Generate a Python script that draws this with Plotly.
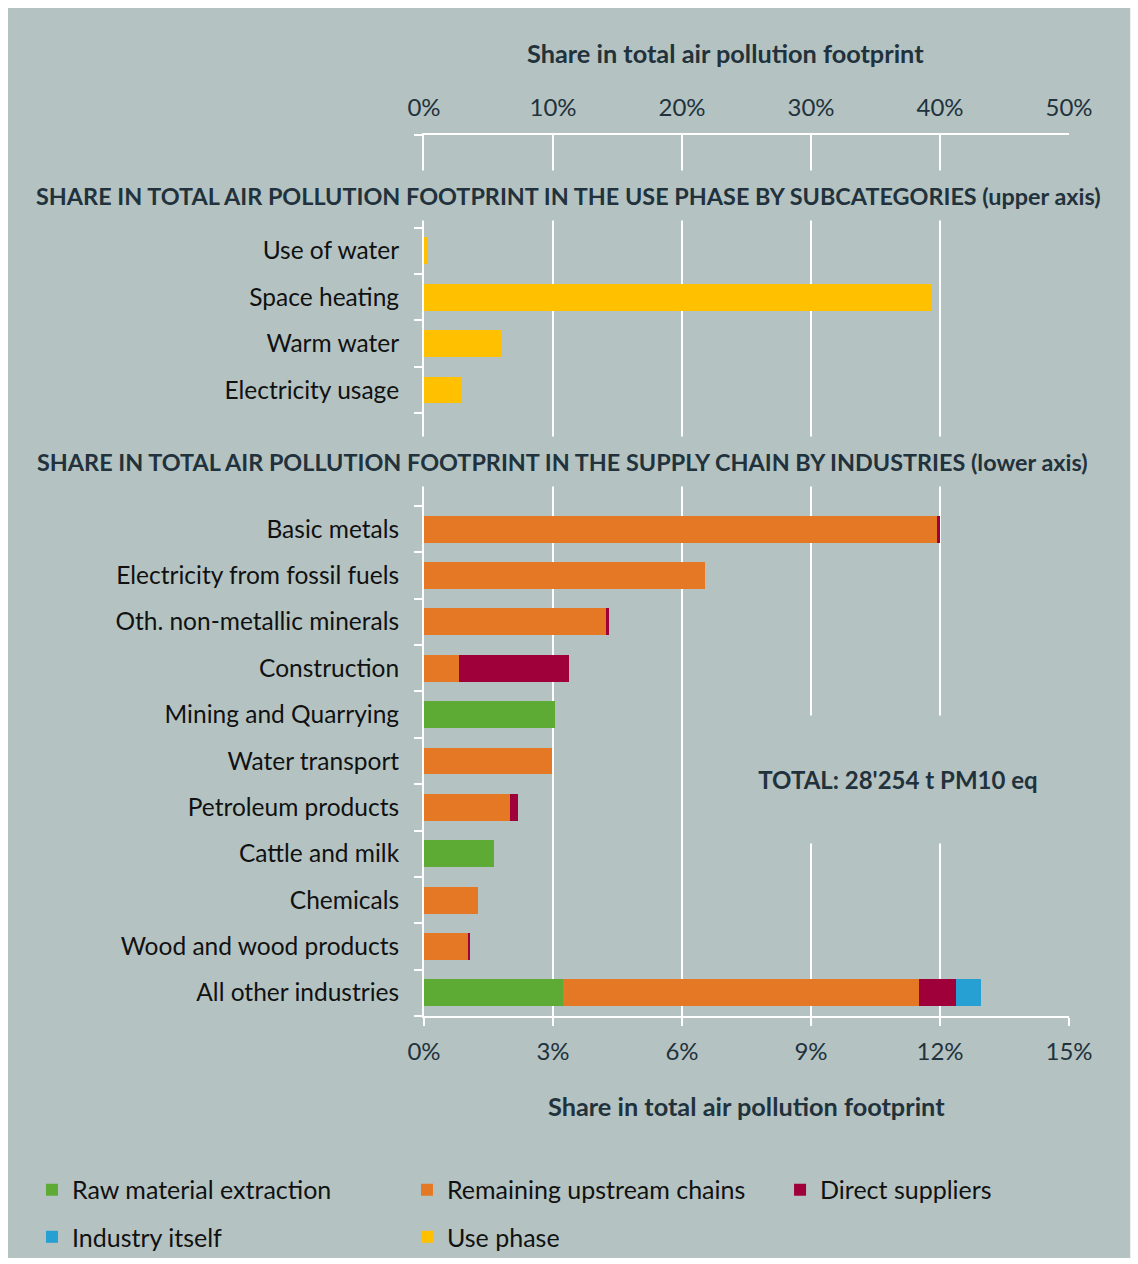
import plotly.graph_objects as go

# ---- data -------------------------------------------------------------
use_categories = ["Use of water", "Space heating", "Warm water", "Electricity usage"]
use_phase = [0.002, 0.394, 0.0605, 0.0295]

industries = [
    "Basic metals",
    "Electricity from fossil fuels",
    "Oth. non-metallic minerals",
    "Construction",
    "Mining and Quarrying",
    "Water transport",
    "Petroleum products",
    "Cattle and milk",
    "Chemicals",
    "Wood and wood products",
    "All other industries",
]
raw_material = [0, 0, 0, 0, 0.0305, 0, 0, 0.0163, 0, 0, 0.0323]
remaining_upstream = [0.1192, 0.0653, 0.0423, 0.0081, 0, 0.0298, 0.0200, 0, 0.0126, 0.0102, 0.0828]
direct_suppliers = [0.0008, 0, 0.0007, 0.0256, 0, 0, 0.0019, 0, 0, 0.0005, 0.0086]
industry_itself = [0, 0, 0, 0, 0, 0, 0, 0, 0, 0, 0.0058]

upper_ticks = [0, 0.1, 0.2, 0.3, 0.4, 0.5]
lower_ticks = [0, 0.03, 0.06, 0.09, 0.12, 0.15]

total_label = "TOTAL: 28'254 t PM10 eq"
axis_title = "Share in total air pollution footprint"
use_header = "SHARE IN TOTAL AIR POLLUTION FOOTPRINT IN THE USE PHASE BY SUBCATEGORIES (upper axis)"
supply_header = "SHARE IN TOTAL AIR POLLUTION FOOTPRINT IN THE SUPPLY CHAIN BY INDUSTRIES (lower axis)"

# ---- styling ----------------------------------------------------------
BG = "#b4c3c2"
DARK = "#22323c"
FONT = "Lato"
COLORS = {
    "Raw material extraction": "#5dab35",
    "Remaining upstream chains": "#e57824",
    "Direct suppliers": "#a0003a",
    "Industry itself": "#269fd3",
    "Use phase": "#ffc000",
}

# rows on the shared vertical axis: two spare rows on top, the use-phase
# block, two spare rows for the second header, then the industries
USE_OFFSET = 2
IND_OFFSET = USE_OFFSET + len(use_categories) + 2
n_rows = IND_OFFSET + len(industries)
use_rows = [USE_OFFSET + i for i in range(len(use_categories))]
ind_rows = [IND_OFFSET + i for i in range(len(industries))]

BAR_W = 0.58
fig = go.Figure()

for name, vals, leg in [
    ("Raw material extraction", raw_material, "legend"),
    ("Remaining upstream chains", remaining_upstream, "legend"),
    ("Direct suppliers", direct_suppliers, "legend3"),
    ("Industry itself", industry_itself, "legend2"),
]:
    fig.add_trace(go.Bar(
        y=ind_rows, x=vals, orientation="h", name=name, width=BAR_W,
        marker=dict(color=COLORS[name], line=dict(width=0)),
        xaxis="x", yaxis="y", legend=leg,
    ))

fig.add_trace(go.Bar(
    y=use_rows, x=use_phase, orientation="h", name="Use phase", width=BAR_W,
    marker=dict(color=COLORS["Use phase"], line=dict(width=0)),
    xaxis="x2", yaxis="y", legend="legend2",
))

tick_font = dict(family=FONT, size=24, color=DARK)
legend_font = dict(family=FONT, size=25, color="#111111")
legend_common = dict(
    orientation="h", xanchor="left", yanchor="middle", font=legend_font,
    bgcolor="rgba(0,0,0,0)", entrywidthmode="pixels", traceorder="normal",
)

fig.update_layout(
    width=1138, height=1264,
    margin=dict(l=424, r=69, t=135, b=248, autoexpand=False),
    paper_bgcolor="white",
    plot_bgcolor="rgba(0,0,0,0)",
    barmode="stack",
    bargap=0,
    xaxis=dict(
        range=[0, 0.15], tickvals=lower_ticks, tickformat=".0%",
        showgrid=True, gridcolor="white", gridwidth=2,
        showline=True, linecolor="white", linewidth=2,
        ticks="outside", ticklen=8, tickcolor="white", tickwidth=2,
        zeroline=False, tickfont=tick_font, ticklabelstandoff=5,
    ),
    xaxis2=dict(
        range=[0, 0.5], tickvals=upper_ticks, tickformat=".0%",
        overlaying="x", side="top", anchor="y",
        showgrid=False, showline=True, linecolor="white", linewidth=2,
        ticks="", zeroline=False, tickfont=tick_font, ticklabelstandoff=7,
    ),
    yaxis=dict(
        range=[n_rows - 0.5, -0.5],
        tickvals=use_rows + ind_rows,
        ticktext=use_categories + industries,
        ticks="", ticklen=0, showgrid=False, zeroline=False,
        showline=True, linecolor="white", linewidth=2,
        tickfont=dict(family=FONT, size=24.5, color="#111111"),
        ticklabelstandoff=18,
        minor=dict(tickmode="linear", tick0=0.5, dtick=1, ticks="outside",
                   ticklen=8, tickcolor="white", tickwidth=2, showgrid=False),
    ),
    showlegend=True,
    legend=dict(x=-0.6078, y=-0.1975, entrywidth=330, **legend_common),
    legend2=dict(x=-0.6078, y=-0.2509, entrywidth=330, **legend_common),
    legend3=dict(x=0.552, y=-0.1975, entrywidth=200, **legend_common),
)

# grey panel behind everything, inset from the white page edge
fig.add_shape(type="rect", xref="paper", yref="paper",
              x0=-0.645, x1=1.095, y0=-0.2747, y1=1.1442,
              fillcolor=BG, line=dict(width=0), layer="below")

header_font = dict(family=FONT, size=23.4, color=DARK)
title_font = dict(family=FONT, size=25.3, color=DARK)
common = dict(showarrow=False, xanchor="center", yanchor="middle")
ann = [
    # axis titles
    dict(text=f"<b>{axis_title}</b>", xref="paper", yref="paper",
         x=0.4673, y=1.093, font=title_font, **common),
    dict(text=f"<b>{axis_title}</b>", xref="paper", yref="paper",
         x=0.5, y=-0.1022, font=title_font, **common),
    # section headers; their background breaks the grid like a gap in the frame
    dict(text=f"<b>{use_header}</b>", xref="paper", yref="y",
         x=0.2248, y=0.805, font=header_font,
         bgcolor=BG, height=49, borderpad=0, **common),
    dict(text=f"<b>{supply_header}</b>", xref="paper", yref="y",
         x=0.2140, y=6.55, font=header_font,
         bgcolor=BG, height=49, borderpad=0, **common),
    # total emissions note
    dict(text=f"<b>{total_label}</b>", xref="paper", yref="y",
         x=0.7349, y=13.40, font=dict(family=FONT, size=24, color=DARK),
         bgcolor=BG, height=127, width=350, borderpad=0, **common),
]
fig.update_layout(annotations=ann)

fig.write_html("out.html")
